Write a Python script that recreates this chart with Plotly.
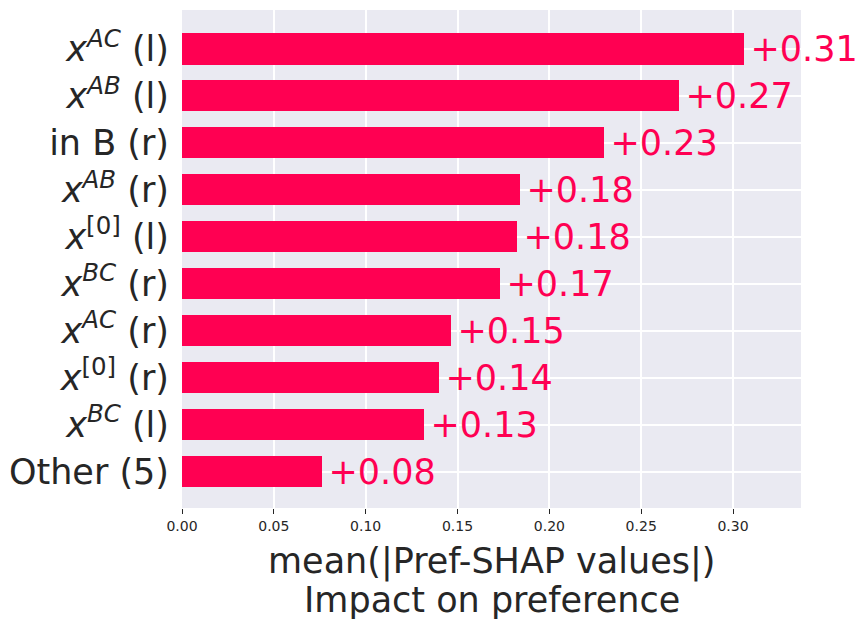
import plotly.graph_objects as go

features = [
    "<i>x</i><sup><i>AC</i></sup> (l)",
    "<i>x</i><sup><i>AB</i></sup> (l)",
    "in B (r)",
    "<i>x</i><sup><i>AB</i></sup> (r)",
    "<i>x</i><sup>[0]</sup> (l)",
    "<i>x</i><sup><i>BC</i></sup> (r)",
    "<i>x</i><sup><i>AC</i></sup> (r)",
    "<i>x</i><sup>[0]</sup> (r)",
    "<i>x</i><sup><i>BC</i></sup> (l)",
    "Other (5)",
]
values = [0.306, 0.2705, 0.230, 0.184, 0.1825, 0.173, 0.1465, 0.140, 0.132, 0.0763]
x_ticks = [0.00, 0.05, 0.10, 0.15, 0.20, 0.25, 0.30]
x_title_lines = ["mean(|Pref-SHAP values|)", "Impact on preference"]

# bottom-to-top order for plotting
feat_plot = features[::-1]
val_plot = values[::-1]
labels = ["\u200a+%.2f" % v for v in val_plot]

RED = "#FF0052"
DARK = "#262626"
FONT = "DejaVu Sans"

fig = go.Figure()
fig.add_trace(go.Bar(
    x=val_plot,
    y=feat_plot,
    orientation="h",
    marker=dict(color=RED, line=dict(width=0)),
    width=0.66,
    text=labels,
    textposition="outside",
    textfont=dict(color=RED, size=35, family=FONT),
    constraintext="none",
    cliponaxis=False,
))

for i, line in enumerate(x_title_lines):
    fig.add_annotation(
        text=line,
        xref="paper", yref="paper",
        x=0.5, y=[-0.108, -0.185][i],
        xanchor="center", yanchor="middle",
        showarrow=False,
        font=dict(size=35, color=DARK, family=FONT),
    )

fig.update_layout(
    width=859,
    height=621,
    margin=dict(l=174, r=66, t=2, b=121, autoexpand=False),
    paper_bgcolor="white",
    plot_bgcolor="#EAEAF2",
    showlegend=False,
    bargap=0,
    font=dict(family=FONT, color=DARK),
    xaxis=dict(
        range=[0, 0.337],
        tickvals=x_ticks,
        ticktext=["%.2f" % t for t in x_ticks],
        tickfont=dict(size=14, color=DARK),
        ticks="outside",
        ticklen=5,
        tickwidth=1.2,
        tickcolor=DARK,
        showgrid=True,
        gridcolor="white",
        gridwidth=1.5,
        zeroline=False,
        showline=False,
        automargin=False,
    ),
    yaxis=dict(
        type="category",
        categoryorder="array",
        categoryarray=feat_plot,
        range=[-0.77, 9.83],
        tickfont=dict(size=35, color=DARK),
        ticks="",
        ticklabelstandoff=12,
        showgrid=True,
        gridcolor="white",
        gridwidth=1.5,
        zeroline=False,
        showline=False,
        automargin=False,
    ),
)

fig.write_html("out.html")
